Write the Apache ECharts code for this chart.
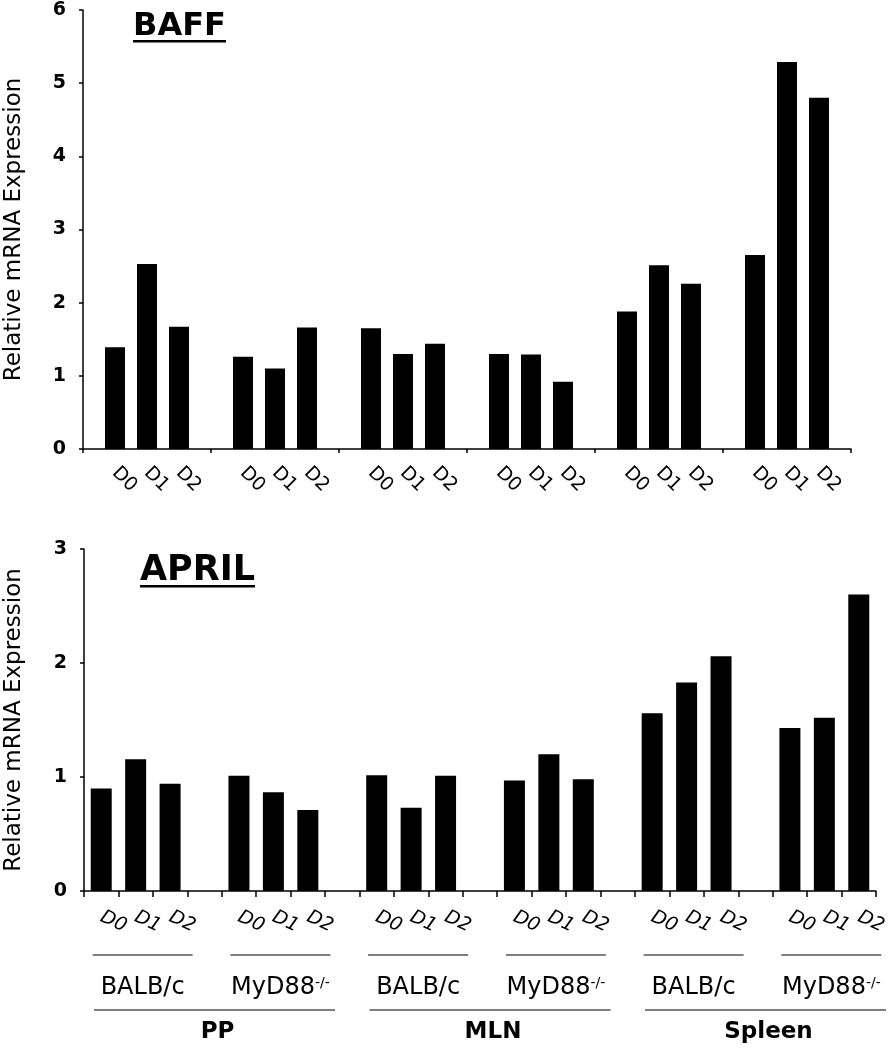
<!DOCTYPE html>
<html>
<head>
<meta charset="utf-8">
<script src="https://cdn.jsdelivr.net/npm/echarts@6/dist/echarts.min.js"></script>
<style>
  html, body { margin: 0; padding: 0; background: #fff; }
  #chart { width: 888px; height: 1050px; }
</style>
</head>
<body>
<div id="chart"></div>
<script>
// ---- data ----
const days = ['D0', 'D1', 'D2'];
const tissues = ['PP', 'MLN', 'Spleen'];
const strains = ['BALB/c', 'MyD88'];
// order: PP BALB/c, PP MyD88, MLN BALB/c, MLN MyD88, Spleen BALB/c, Spleen MyD88 (D0, D1, D2 each)
const baffValues = [1.39, 2.53, 1.67, 1.26, 1.10, 1.66, 1.65, 1.30, 1.44, 1.30, 1.29, 0.92, 1.88, 2.51, 2.26, 2.65, 5.29, 4.80];
const aprilValues = [0.90, 1.155, 0.94, 1.01, 0.866, 0.71, 1.015, 0.73, 1.01, 0.97, 1.20, 0.98, 1.56, 1.83, 2.06, 1.43, 1.52, 2.60];
const baffTicks = [0, 1, 2, 3, 4, 5, 6];
const aprilTicks = [0, 1, 2, 3];
const yTitle = 'Relative mRNA Expression';

const FONT = 'DejaVu Sans';
const nGroups = tissues.length * strains.length;

// top chart: 25 evenly spaced category points (boundaryGap false), separators at multiples of 4
const topCats = [], topData = [];
for (let g = 0; g < nGroups; g++) {
  topCats.push(''); topData.push(null);
  days.forEach((d, i) => { topCats.push(d); topData.push(baffValues[g * 3 + i]); });
}
topCats.push(''); topData.push(null);

// bottom chart: 23 categories: 3 bars + 1 gap per group
const botCats = [], botData = [];
for (let g = 0; g < nGroups; g++) {
  days.forEach((d, i) => { botCats.push(d); botData.push(aprilValues[g * 3 + i]); });
  if (g < nGroups - 1) { botCats.push(''); botData.push(null); }
}

const chart = echarts.init(document.getElementById('chart'), null, { renderer: 'canvas', width: 888, height: 1050 });

const yAxisCommon = {
  type: 'value',
  nameLocation: 'middle',
  nameRotate: 90,
  nameTextStyle: { fontFamily: FONT, fontSize: 23, color: '#000' },
  splitLine: { show: false },
  axisLine: { show: true, lineStyle: { color: '#000', width: 1.5 } },
  axisTick: { show: true, length: 4, lineStyle: { color: '#000', width: 1.5 } },
  axisLabel: { fontFamily: FONT, fontSize: 19, fontWeight: 'bold', color: '#000', margin: 17 }
};

chart.setOption({
  animation: false,
  backgroundColor: '#fff',
  grid: [
    { left: 83, right: 37, top: 10, height: 439, containLabel: false, outerBoundsMode: 'none' },
    { left: 84, right: 12, top: 549, height: 342, containLabel: false, outerBoundsMode: 'none' }
  ],
  xAxis: [
    {
      type: 'category', gridIndex: 0, data: topCats, boundaryGap: false,
      axisLine: { lineStyle: { color: '#000', width: 1.5 } },
      axisTick: { show: true, length: 4, interval: (i) => i % 4 === 0, lineStyle: { color: '#000', width: 1.5 } },
      axisLabel: { interval: 0, rotate: -45, margin: 21, fontFamily: FONT, fontSize: 19, color: '#000' },
      splitLine: { show: false }
    },
    {
      type: 'category', gridIndex: 1, data: botCats, boundaryGap: true,
      axisLine: { lineStyle: { color: '#000', width: 1.5 } },
      axisTick: { show: true, length: 6, interval: 0, lineStyle: { color: '#000', width: 1.5 } },
      axisLabel: { interval: 0, rotate: -25, margin: 25, fontFamily: FONT, fontSize: 19, fontStyle: 'italic', color: '#000' },
      splitLine: { show: false }
    }
  ],
  yAxis: [
    Object.assign({}, yAxisCommon, {
      gridIndex: 0, min: baffTicks[0], max: baffTicks[baffTicks.length - 1], interval: 1,
      name: yTitle, nameGap: 57
    }),
    Object.assign({}, yAxisCommon, {
      gridIndex: 1, min: aprilTicks[0], max: aprilTicks[aprilTicks.length - 1], interval: 1,
      name: yTitle, nameGap: 58
    })
  ],
  series: [
    { type: 'bar', xAxisIndex: 0, yAxisIndex: 0, data: topData, barWidth: 20, itemStyle: { color: '#000' } },
    { type: 'bar', xAxisIndex: 1, yAxisIndex: 1, data: botData, barWidth: 21, itemStyle: { color: '#000' } }
  ]
});

// ---- annotations (titles + group labels), positioned from the axes ----
const gfx = [];
function title(text, x, yMid, size, lineY, lineW) {
  gfx.push({ type: 'text', x: x, y: yMid, style: { text: text, font: 'bold ' + size + 'px "' + FONT + '"', fill: '#000', verticalAlign: 'middle', align: 'left' } });
  gfx.push({ type: 'rect', shape: { x: x, y: lineY, width: lineW, height: 2.5 }, style: { fill: '#000' } });
}
title('BAFF', 133, 27, 32, 40, 93);
title('APRIL', 140, 571, 35, 585, 115);

const px = (idx) => chart.convertToPixel({ xAxisIndex: 1 }, idx);
const slotW = px(1) - px(0);
const lineStyle = { stroke: '#000', lineWidth: 1.2 };
for (let g = 0; g < nGroups; g++) {
  const c = px(g * 4 + 1) + 7;
  gfx.push({ type: 'line', shape: { x1: c - 50, y1: 955, x2: c + 50, y2: 955 }, style: lineStyle });
  const isMy = g % 2 === 1;
  gfx.push({
    type: 'text', x: c, y: 988,
    style: {
      text: isMy ? '{m|MyD88}{s|-/-}' : '{m|BALB/c}',
      align: 'center', verticalAlign: 'middle',
      rich: {
        m: { fontFamily: FONT, fontSize: 24, fill: '#000', color: '#000' },
        s: { fontFamily: FONT, fontSize: 14, fill: '#000', color: '#000', verticalAlign: 'top', padding: [0, 0, 8, 0] }
      },
      font: '24px "' + FONT + '"', fill: '#000'
    }
  });
}
for (let t = 0; t < tissues.length; t++) {
  const a = px(t * 8) - slotW / 2 + 10;
  const b = px(t * 8 + 6) + slotW / 2 + 10;
  gfx.push({ type: 'line', shape: { x1: a, y1: 1010, x2: b, y2: 1010 }, style: lineStyle });
  gfx.push({ type: 'text', x: (a + b) / 2 + 3, y: 1032, style: { text: tissues[t], font: 'bold 23px "' + FONT + '"', fill: '#000', align: 'center', verticalAlign: 'middle' } });
}
chart.setOption({ graphic: gfx });
</script>
</body>
</html>
